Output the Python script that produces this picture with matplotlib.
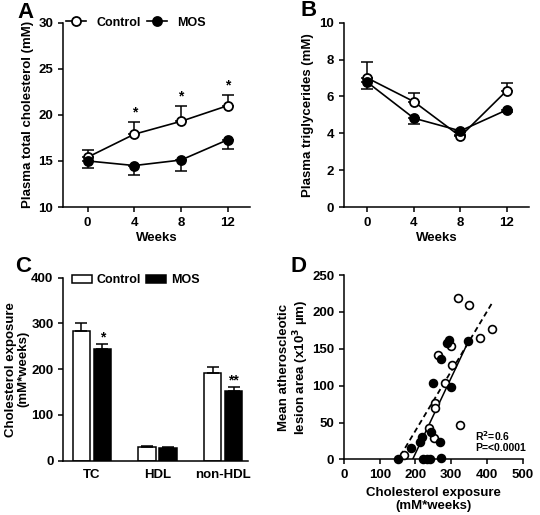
import matplotlib
matplotlib.use("Agg")
import matplotlib.pyplot as plt
import numpy as np
from matplotlib.patches import Patch

plt.rcParams["font.family"] = ["Liberation Sans", "DejaVu Sans"]
plt.rcParams["font.weight"] = "bold"
plt.rcParams["axes.labelweight"] = "bold"
plt.rcParams["font.size"] = 9
plt.rcParams["axes.linewidth"] = 1.1
plt.rcParams["xtick.major.width"] = 1.1
plt.rcParams["ytick.major.width"] = 1.1
plt.rcParams["xtick.major.size"] = 3.5
plt.rcParams["ytick.major.size"] = 3.5

# panel A: total cholesterol
weeks = [0, 4, 8, 12]
tc_ctrl = [15.4, 17.9, 19.3, 21.0]
tc_ctrl_err = [0.8, 1.3, 1.65, 1.2]
tc_mos = [15.0, 14.5, 15.1, 17.3]
tc_mos_err = [0.8, 1.0, 1.2, 1.0]
tc_stars = ["", "*", "*", "*"]

# panel B: triglycerides
tg_ctrl = [7.0, 5.72, 3.83, 6.32]
tg_ctrl_err = [0.88, 0.49, 0.05, 0.43]
tg_mos = [6.77, 4.82, 4.13, 5.27]
tg_mos_err = [0.38, 0.31, 0.05, 0.1]

# panel C: cholesterol exposure
groups = ["TC", "HDL", "non-HDL"]
exp_ctrl = [284, 29, 192]
exp_ctrl_err = [16, 3, 12]
exp_mos = [244, 28, 152]
exp_mos_err = [12, 2.5, 10]
exp_stars = ["*", "", "**"]

# panel D: exposure vs lesion area
d_ctrl_x = [320, 350, 413, 381, 262, 299, 301, 282, 254, 256, 325, 238, 253, 169]
d_ctrl_y = [219, 209, 177, 164, 142, 154, 128, 103, 76, 69, 47, 43, 29, 6]
d_mos_x = [150, 188, 217, 214, 243, 270, 222, 231, 240, 272, 250, 299, 271, 289, 294, 348]
d_mos_y = [0, 16, 30, 24, 37, 24, 0, 0, 0, 2, 103, 98, 136, 158, 162, 160]
fit_solid_x = [192, 348]
fit_solid_y = [0, 160]
fit_dash_x = [158, 413]
fit_dash_y = [5, 211]

FS = 9.5

fig = plt.figure(figsize=(5.4, 5.15), dpi=100)
axA = fig.add_axes([0.1167, 0.598, 0.3463, 0.358])
axB = fig.add_axes([0.637, 0.598, 0.3426, 0.358])
axC = fig.add_axes([0.117, 0.1054, 0.342, 0.3553])
axD = fig.add_axes([0.637, 0.108, 0.331, 0.358])

for ax in (axA, axB, axC, axD):
    ax.spines["top"].set_visible(False)
    ax.spines["right"].set_visible(False)

ms = 6.5
mew = 1.3


def line_panel(ax, ctrl, ctrl_err, mos, mos_err):
    ax.errorbar(weeks, ctrl, yerr=[np.zeros(4), ctrl_err], fmt="none", ecolor="black",
                elinewidth=1.1, capsize=4, capthick=1.1, zorder=2)
    ax.errorbar(weeks, mos, yerr=[mos_err, np.zeros(4)], fmt="none", ecolor="black",
                elinewidth=1.1, capsize=4, capthick=1.1, zorder=2)
    ax.plot(weeks, ctrl, "-o", color="black", mfc="white", mec="black", ms=ms, mew=mew, lw=1.2,
            label="Control", zorder=3, clip_on=False)
    ax.plot(weeks, mos, "-o", color="black", mfc="black", mec="black", ms=ms, mew=mew, lw=1.2,
            label="MOS", zorder=3, clip_on=False)
    ax.set_xlim(-2.1, 13.9)
    ax.set_xticks(weeks)
    ax.set_xlabel("Weeks", fontsize=FS, labelpad=2)


line_panel(axA, tc_ctrl, tc_ctrl_err, tc_mos, tc_mos_err)
axA.set_ylim(10, 30)
axA.set_yticks([10, 15, 20, 25, 30])
axA.set_ylabel("Plasma total cholesterol (mM)", fontsize=FS, labelpad=3)
for w, v, e, s in zip(weeks, tc_ctrl, tc_ctrl_err, tc_stars):
    if s:
        axA.text(w, v + e + 0.25, s, ha="center", va="bottom", fontsize=10, fontweight="bold")
axA.legend(loc="center left", bbox_to_anchor=(-0.01, 1.0), ncol=2, frameon=False,
           handlelength=1.6, handletextpad=0.8, columnspacing=0.5, fontsize=9, borderaxespad=0)

line_panel(axB, tg_ctrl, tg_ctrl_err, tg_mos, tg_mos_err)
axB.set_xlim(-2.0, 13.9)
axB.set_ylim(0, 10)
axB.set_yticks([0, 2, 4, 6, 8, 10])
axB.set_ylabel("Plasma triglycerides (mM)", fontsize=FS, labelpad=4)

# panel C bars
xc = np.arange(len(groups))
bw = 0.263
off = 0.16
axC.bar(xc - off, exp_ctrl, bw, color="white", edgecolor="black", linewidth=1.1,
        yerr=[np.zeros(3), exp_ctrl_err], capsize=4.5, error_kw=dict(elinewidth=1.1, capthick=1.1),
        label="Control")
axC.bar(xc + off, exp_mos, bw, color="black", edgecolor="black", linewidth=1.1,
        yerr=[np.zeros(3), exp_mos_err], capsize=4.5, error_kw=dict(elinewidth=1.1, capthick=1.1),
        label="MOS")
for x, v, e, s in zip(xc + off, exp_mos, exp_mos_err, exp_stars):
    if s:
        axC.text(x, v + e - 2, s, ha="center", va="bottom", fontsize=10, fontweight="bold")
axC.set_xlim(-0.435, 2.374)
axC.set_ylim(0, 400)
axC.set_yticks([0, 100, 200, 300, 400])
axC.set_xticks(xc)
axC.set_xticklabels(groups)
axC.tick_params(axis="x", length=0, pad=6)
axC.set_ylabel("Cholesterol exposure\n(mM*weeks)", fontsize=FS, labelpad=1, linespacing=1.1)
handles = [Patch(facecolor="white", edgecolor="black", linewidth=1.1, label="Control"),
           Patch(facecolor="black", edgecolor="black", linewidth=1.1, label="MOS")]
axC.legend(handles=handles, loc="center left", bbox_to_anchor=(0.02, 0.985), ncol=2, frameon=False,
           handlelength=1.6, handleheight=0.7, handletextpad=0.4, columnspacing=0.4,
           fontsize=9, borderaxespad=0)

# panel D scatter
axD.plot(fit_dash_x, fit_dash_y, "--", color="black", lw=1.3, dashes=(3, 2))
axD.plot(fit_solid_x, fit_solid_y, "-", color="black", lw=1.1)
axD.scatter(d_ctrl_x, d_ctrl_y, s=32, facecolor="white", edgecolor="black", linewidth=1.2,
            zorder=3, clip_on=False)
axD.scatter(d_mos_x, d_mos_y, s=32, facecolor="black", edgecolor="black", linewidth=1.2,
            zorder=3, clip_on=False)
axD.set_xlim(0, 500)
axD.set_ylim(0, 250)
axD.set_xticks([0, 100, 200, 300, 400, 500])
axD.set_yticks([0, 50, 100, 150, 200, 250])
axD.set_xlabel("Cholesterol exposure\n(mM*weeks)", fontsize=FS, labelpad=4)
axD.set_ylabel("Mean atheroscleotic\nlesion area (x10$^\\mathbf{3}$ µm)", fontsize=FS, labelpad=1,
               linespacing=1.1)
axD.text(366, 31, "R$^\\mathbf{2}$=0.6", fontsize=7.5, fontweight="bold", va="center")
axD.text(366, 15, "P=<0.0001", fontsize=7.5, fontweight="bold", va="center")

for ax in (axA, axB, axC, axD):
    for lab in ax.get_xticklabels() + ax.get_yticklabels():
        lab.set_fontweight("bold")
        lab.set_fontsize(FS)

fig.text(25 / 540, 1 - 13 / 515, "A", fontsize=16, fontweight="bold", va="center", ha="center")
fig.text(309 / 540, 1 - 11 / 515, "B", fontsize=16, fontweight="bold", va="center", ha="center")
fig.text(23 / 540, 1 - 266 / 515, "C", fontsize=16, fontweight="bold", va="center", ha="center")
fig.text(298 / 540, 1 - 266 / 515, "D", fontsize=16, fontweight="bold", va="center", ha="center")

fig.savefig("out.png", dpi=100)
